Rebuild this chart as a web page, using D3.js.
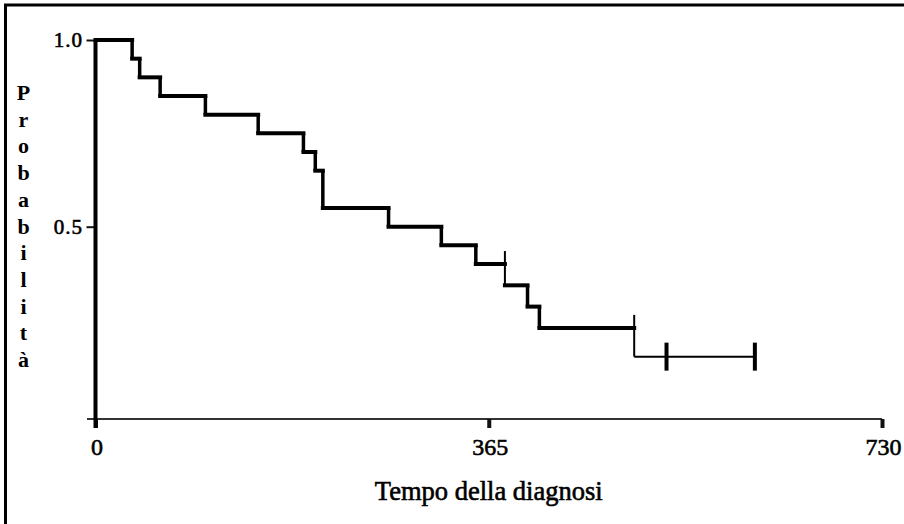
<!DOCTYPE html>
<html><head><meta charset="utf-8">
<script src="https://cdn.jsdelivr.net/npm/d3@7"></script>
<style>
html,body{margin:0;padding:0;background:#fff;}
svg{display:block;}
</style></head><body>
<script>
// ---- data ----
const eventTimes = [0, 34, 41, 60, 102, 151, 193, 204, 211, 272, 321, 353, 380, 401, 412, 500];
const survival   = [1.0, 0.95, 0.90, 0.85, 0.80, 0.75, 0.70, 0.65, 0.55, 0.50, 0.45, 0.40, 0.343, 0.286, 0.229, 0.152];
const censorTimes  = [380, 500, 530, 612];
const censorValues = [0.40, 0.229, 0.152, 0.152];
const endTime = 612;
const xTicks = [0, 365, 730];
const yTicks = [0.5, 1.0];
const xLabel = "Tempo della diagnosi";
const yLabel = "Probabilità";

// ---- layout ----
const W = 904, H = 524;
const FONT = "'Liberation Serif','Times New Roman',serif";
const x = d3.scaleLinear().domain([0, 730]).range([95.5, 882]);
const y = d3.scaleLinear().domain([0, 1]).range([413.4, 40]);
const xAxisY = 419;

const svg = d3.select("body").append("svg").attr("width", W).attr("height", H);
svg.append("rect").attr("width", W).attr("height", H).attr("fill", "#fff");

// frame (top and left edges)
svg.append("path").attr("d", `M5.5,${H} V5 H${W}`).attr("fill", "none")
  .attr("stroke", "#000").attr("stroke-width", 3);

// x axis
const gx = svg.append("g").attr("transform", `translate(0,${xAxisY})`)
  .call(d3.axisBottom(x).tickValues(xTicks).tickSize(9).tickPadding(10).tickFormat(d3.format("d")));
gx.select(".domain").remove();
gx.selectAll(".tick line").attr("stroke", "#111").attr("stroke-width", 4);
gx.selectAll(".tick text").attr("font-family", FONT).attr("font-size", 24)
  .attr("fill", "#000").attr("stroke", "#000").attr("stroke-width", 0.6).attr("dx", 1);
gx.insert("line", ":first-child").attr("x1", x(0) - 8.5).attr("x2", x(730)).attr("y1", 0).attr("y2", 0)
  .attr("stroke", "#333").attr("stroke-width", 2);

// y axis
const gy = svg.append("g").attr("transform", `translate(${x(0)},0)`)
  .call(d3.axisLeft(y).tickValues(yTicks).tickSize(9).tickPadding(3.5).tickFormat(d3.format(".1f")));
gy.select(".domain").remove();
gy.selectAll(".tick line").attr("stroke", "#111").attr("stroke-width", 2);
gy.selectAll(".tick text").attr("font-family", FONT).attr("font-size", 21)
  .attr("fill", "#000").attr("stroke", "#000").attr("stroke-width", 0.6).attr("letter-spacing", 1);
gy.append("line").attr("x1", 0).attr("x2", 0).attr("y1", y(1)).attr("y2", xAxisY + 9)
  .attr("stroke", "#000").attr("stroke-width", 4);

// Kaplan-Meier step curve
const g = svg.append("g").attr("stroke", "#000").attr("fill", "none");
const n = eventTimes.length;
for (let i = 0; i < n; i++) {
  const t0 = eventTimes[i], t1 = i < n - 1 ? eventTimes[i + 1] : endTime;
  const last = i === n - 1;
  g.append("line").attr("x1", x(t0)).attr("x2", x(t1)).attr("y1", y(survival[i])).attr("y2", y(survival[i]))
    .attr("stroke-width", last ? 2 : 4).attr("stroke-linecap", last ? "butt" : "square");
  if (i > 0) {
    const thin = censorTimes.includes(t0);
    g.append("line").attr("x1", x(t0)).attr("x2", x(t0)).attr("y1", y(survival[i - 1])).attr("y2", y(survival[i]))
      .attr("stroke-width", thin ? 2 : 3.5);
  }
}
// censor marks
censorTimes.forEach((t, k) => {
  const v = censorValues[k];
  const atEvent = eventTimes.includes(t);
  g.append("line").attr("x1", x(t)).attr("x2", x(t))
    .attr("y1", y(v) - (atEvent ? 13 : 14)).attr("y2", atEvent ? y(v) : y(v) + 14)
    .attr("stroke-width", atEvent ? 2 : 4);
});

// axis titles
svg.append("text").attr("x", x(365)).attr("y", 500).attr("text-anchor", "middle")
  .attr("font-family", FONT).attr("font-size", 26.5).attr("fill", "#000")
  .attr("stroke", "#000").attr("stroke-width", 0.6).text(xLabel);

const yl = svg.append("text").attr("font-family", FONT).attr("font-size", 22).attr("font-weight", "bold")
  .attr("fill", "#000").attr("text-anchor", "middle");
Array.from(yLabel).forEach((ch, i) => {
  yl.append("tspan").attr("x", 23.5).attr("y", 100 + i * 26.7).text(ch);
});
</script>
</body></html>
